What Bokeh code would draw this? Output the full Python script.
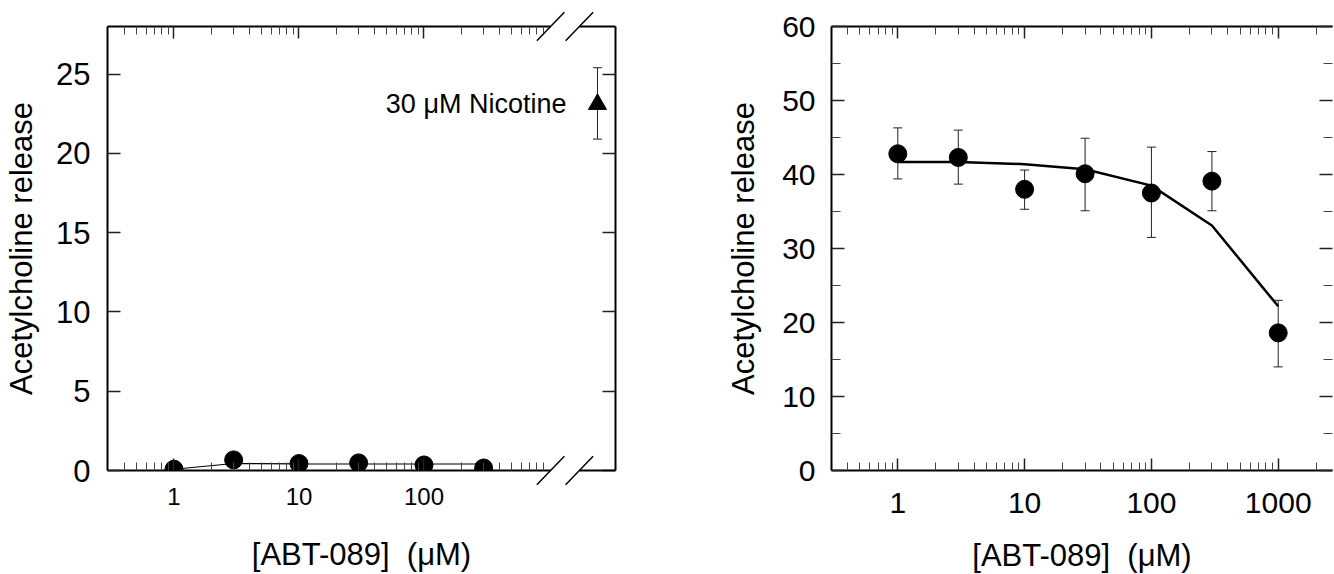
from bokeh.plotting import figure
from bokeh.layouts import row
from bokeh.models import (ColumnDataSource, Whisker, TeeHead, FixedTicker, LogAxis, LinearAxis,
                          BasicTickFormatter, Label, Range1d)
from bokeh.embed import file_html
from bokeh.resources import INLINE

# ---------------- data ----------------
left_conc = [1, 3, 10, 30, 100, 300]
left_release = [0.08, 0.67, 0.44, 0.48, 0.35, 0.16]
left_fit = [0.08, 0.44, 0.42, 0.41, 0.41, 0.41]

nicotine_label = "30 μM Nicotine"
nicotine_pos = [2443]          # plotted beyond the axis break
nicotine_release = [23.1]
nicotine_lower = [20.9]
nicotine_upper = [25.4]

right_conc = [1, 3, 10, 30, 100, 300, 1000]
right_release = [42.8, 42.3, 38.0, 40.1, 37.5, 39.1, 18.6]
right_lower = [39.4, 38.7, 35.3, 35.1, 31.5, 35.1, 14.0]
right_upper = [46.3, 46.0, 40.6, 44.9, 43.7, 43.1, 23.0]
right_fit = [41.7, 41.7, 41.4, 40.7, 38.5, 33.1, 22.2]

left_xticks = [1, 10, 100]
right_xticks = [1, 10, 100, 1000]
x_minor_ticks = [0.4, 0.5, 0.6, 0.7, 0.8, 0.9,
                 2, 3, 4, 5, 6, 7, 8, 9,
                 20, 30, 40, 50, 60, 70, 80, 90,
                 200, 300, 400, 500, 600, 700, 800, 900,
                 2000, 3000]
left_yticks = [0, 5, 10, 15, 20, 25]
right_yticks = [0, 10, 20, 30, 40, 50, 60]
right_yminor = [5, 15, 25, 35, 45, 55]

x_label = "[ABT-089] \u00a0(μM)"
y_label = "Acetylcholine release"

# ---------------- layout constants ----------------
LEFT_X = (0.2938, 3405)
LEFT_Y = (0, 28)
RIGHT_X = (0.3, 2680)
RIGHT_Y = (0, 60)
BREAK_LO, BREAK_HI = 1030, 1750
SLASH_F = 10 ** 0.11
SLASH_DY = 0.9
FONT = "Liberation Sans"


def style_axis(ax, size, standoff, maj_in, min_in, show_labels=True):
    ax.axis_line_width = 2
    ax.axis_line_color = "black"
    ax.major_tick_in = maj_in
    ax.major_tick_out = 0
    ax.minor_tick_in = min_in
    ax.minor_tick_out = 0
    ax.major_tick_line_width = 1.5
    ax.major_tick_line_color = "#222222"
    ax.minor_tick_line_width = 1
    ax.minor_tick_line_color = "#444444"
    ax.major_label_text_font = FONT
    ax.major_label_text_color = "black"
    ax.axis_label_text_font = FONT
    ax.axis_label_text_font_style = "normal"
    ax.axis_label_text_color = "black"
    if show_labels:
        ax.major_label_text_font_size = size
        ax.major_label_standoff = standoff
    else:
        ax.major_label_text_font_size = "1px"
        ax.major_label_text_alpha = 0
        ax.major_label_standoff = 0


def make_fig(xr, yr, frame_w, border_l, border_r):
    p = figure(x_axis_type="log", x_range=Range1d(*xr), y_range=Range1d(*yr),
               frame_width=frame_w, frame_height=444,
               min_border_left=border_l, min_border_right=border_r,
               min_border_top=26, min_border_bottom=104,
               toolbar_location=None, output_backend="svg")
    p.xgrid.visible = False
    p.ygrid.visible = False
    p.outline_line_color = None
    p.background_fill_color = "white"
    p.border_fill_color = "white"
    return p


# ---------------- left panel ----------------
pl = make_fig(LEFT_X, LEFT_Y, 508, 107, 12)
left_minor = [t for t in x_minor_ticks if t < BREAK_LO]

bx = pl.xaxis[0]
bx.ticker = FixedTicker(ticks=left_xticks, minor_ticks=left_minor)
bx.formatter = BasicTickFormatter()
bx.bounds = (LEFT_X[0], BREAK_LO)
style_axis(bx, "24px", 17, 12, 8)
bx.axis_label = x_label
bx.axis_label_text_font_size = "31px"
bx.axis_label_standoff = 29

tx = LogAxis(ticker=FixedTicker(ticks=left_xticks, minor_ticks=left_minor),
             formatter=BasicTickFormatter(), bounds=(LEFT_X[0], BREAK_LO))
tx.major_label_overrides = {t: "" for t in left_xticks}
style_axis(tx, None, 0, 12, 8, show_labels=False)
pl.add_layout(tx, "above")

ly = pl.yaxis[0]
ly.ticker = FixedTicker(ticks=left_yticks, minor_ticks=[])
ly.formatter = BasicTickFormatter()
style_axis(ly, "31px", 17, 13, 0)
ly.axis_label = y_label
ly.axis_label_text_font_size = "31px"
ly.axis_label_standoff = 14

ry = LinearAxis(ticker=FixedTicker(ticks=left_yticks, minor_ticks=[]),
                formatter=BasicTickFormatter())
ry.major_label_overrides = {t: "" for t in left_yticks}
style_axis(ry, None, 0, 13, 0, show_labels=False)
pl.add_layout(ry, "right")

# axis break: frame stubs after the break, and the slashes
stub_src = ColumnDataSource(dict(x0=[BREAK_HI, BREAK_HI], x1=[LEFT_X[1], LEFT_X[1]],
                                 y=[LEFT_Y[0], LEFT_Y[1]]))
pl.segment(x0="x0", y0="y", x1="x1", y1="y", source=stub_src,
           line_color="black", line_width=2, level="overlay")
sx0, sx1, sy0, sy1 = [], [], [], []
for yv in LEFT_Y:
    for bxv in (BREAK_LO, BREAK_HI):
        sx0.append(bxv / SLASH_F)
        sx1.append(bxv * SLASH_F)
        sy0.append(yv - SLASH_DY)
        sy1.append(yv + SLASH_DY)
slash_src = ColumnDataSource(dict(x0=sx0, x1=sx1, y0=sy0, y1=sy1))
pl.segment(x0="x0", y0="y0", x1="x1", y1="y1", source=slash_src,
           line_color="black", line_width=1.5, level="overlay")

src_l = ColumnDataSource(dict(x=left_conc, y=left_release, fit=left_fit))
pl.line("x", "fit", source=src_l, line_color="black", line_width=1.2)
pl.scatter("x", "y", source=src_l, size=18, color="black")

src_n = ColumnDataSource(dict(x=nicotine_pos, y=nicotine_release,
                              lo=nicotine_lower, hi=nicotine_upper))
wn = Whisker(base="x", lower="lo", upper="hi", source=src_n, dimension="height",
             line_color="#222222", line_width=1, level="underlay",
             lower_head=TeeHead(size=9, line_width=1, line_color="#222222"),
             upper_head=TeeHead(size=9, line_width=1, line_color="#222222"))
pl.add_layout(wn)
pl.scatter("x", "y", source=src_n, marker="triangle", size=18, color="black")
pl.add_layout(Label(x=nicotine_pos[0], y=nicotine_release[0], x_offset=-31,
                    text=nicotine_label, text_align="right", text_baseline="middle",
                    text_font=FONT, text_font_size="27px", text_color="black"))

# ---------------- right panel ----------------
pr = make_fig(RIGHT_X, RIGHT_Y, 501, 204, 2)

bx2 = pr.xaxis[0]
bx2.ticker = FixedTicker(ticks=right_xticks, minor_ticks=x_minor_ticks)
bx2.formatter = BasicTickFormatter()
style_axis(bx2, "30px", 22, 12, 8)
bx2.axis_label = x_label
bx2.axis_label_text_font_size = "31px"
bx2.axis_label_standoff = 22

tx2 = LogAxis(ticker=FixedTicker(ticks=right_xticks, minor_ticks=x_minor_ticks),
              formatter=BasicTickFormatter())
tx2.major_label_overrides = {t: "" for t in right_xticks}
style_axis(tx2, None, 0, 12, 8, show_labels=False)
pr.add_layout(tx2, "above")

ly2 = pr.yaxis[0]
ly2.ticker = FixedTicker(ticks=right_yticks, minor_ticks=right_yminor)
ly2.formatter = BasicTickFormatter()
style_axis(ly2, "30px", 16, 13, 9)
ly2.axis_label = y_label
ly2.axis_label_text_font_size = "31px"
ly2.axis_label_standoff = 18

ry2 = LinearAxis(ticker=FixedTicker(ticks=right_yticks, minor_ticks=right_yminor),
                 formatter=BasicTickFormatter())
ry2.major_label_overrides = {t: "" for t in right_yticks}
style_axis(ry2, None, 0, 13, 9, show_labels=False)
ry2.axis_line_color = None
pr.add_layout(ry2, "right")

src_r = ColumnDataSource(dict(x=right_conc, y=right_release, fit=right_fit,
                              lo=right_lower, hi=right_upper))
wr = Whisker(base="x", lower="lo", upper="hi", source=src_r, dimension="height",
             line_color="#222222", line_width=1, level="underlay",
             lower_head=TeeHead(size=9, line_width=1, line_color="#222222"),
             upper_head=TeeHead(size=9, line_width=1, line_color="#222222"))
pr.add_layout(wr)
pr.line("x", "fit", source=src_r, line_color="black", line_width=2.5)
pr.scatter("x", "y", source=src_r, size=18, color="black")

layout = row(pl, pr)
open("out.html", "w").write(file_html(layout, INLINE))
